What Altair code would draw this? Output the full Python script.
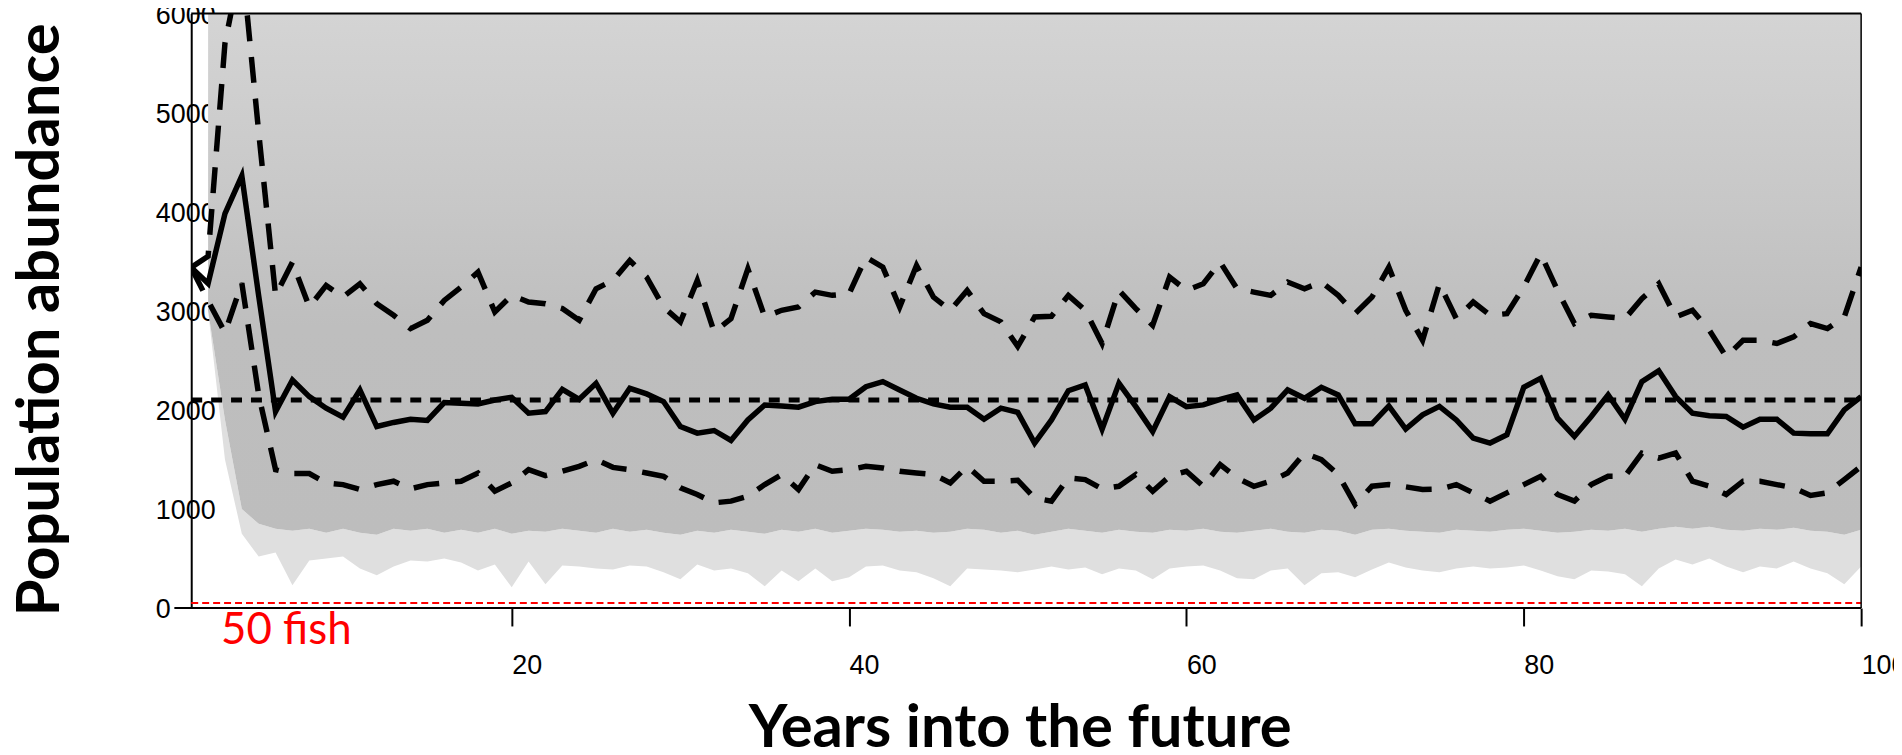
import altair as alt
import pandas as pd

# ---------------- data ----------------
years = list(range(1, 101))

median = [3437, 3276, 3980, 4362, 3150, 1983, 2301, 2134, 2017, 1926,
          2201, 1832, 1873, 1906, 1893, 2074, 2067, 2060, 2100, 2127,
          1966, 1983, 2208, 2107, 2268, 1966, 2218, 2161, 2084, 1832,
          1765, 1792, 1692, 1899, 2050, 2040, 2027, 2084, 2107, 2107,
          2234, 2285, 2201, 2117, 2060, 2027, 2027, 1906, 2017, 1975,
          1665, 1899, 2194, 2251, 1806, 2268, 2033, 1782, 2134, 2033,
          2050, 2107, 2151, 1899, 2017, 2201, 2117, 2228, 2151, 1859,
          1859, 2040, 1806, 1950, 2035, 1899, 1715, 1665, 1749, 2228,
          2318, 1916, 1732, 1933, 2151, 1906, 2285, 2395, 2134, 1966,
          1940, 1933, 1826, 1906, 1906, 1765, 1759, 1759, 2000, 2134]

upper = [3437, 3550, 5700, 6550, 4800, 3155, 3490, 3038, 3256, 3139,
         3273, 3072, 2955, 2820, 2904, 3105, 3240, 3390, 2988, 3156,
         3089, 3072, 3022, 2904, 3223, 3306, 3507, 3340, 3038, 2888,
         3306, 2787, 2921, 3424, 2938, 3005, 3038, 3189, 3156, 3172,
         3541, 3440, 3038, 3457, 3139, 3005, 3206, 2971, 2888, 2640,
         2938, 2945, 3156, 3005, 2670, 3206, 3022, 2854, 3340, 3206,
         3273, 3491, 3223, 3189, 3156, 3290, 3223, 3290, 3156, 2971,
         3139, 3440, 3005, 2703, 3273, 2921, 3089, 2955, 2971, 3240,
         3574, 3206, 2871, 2955, 2938, 2921, 3122, 3273, 2938, 3005,
         2804, 2536, 2703, 2703, 2670, 2737, 2871, 2821, 2938, 3440]

lower = [3437, 3100, 2780, 3280, 2150, 1397, 1357, 1357, 1263, 1246,
         1196, 1246, 1280, 1203, 1246, 1263, 1280, 1363, 1179, 1263,
         1397, 1337, 1380, 1430, 1497, 1420, 1397, 1363, 1330, 1213,
         1146, 1062, 1079, 1129, 1246, 1347, 1196, 1447, 1380, 1397,
         1430, 1414, 1380, 1363, 1347, 1263, 1430, 1280, 1280, 1290,
         1110, 1079, 1313, 1296, 1203, 1229, 1347, 1179, 1330, 1380,
         1229, 1447, 1313, 1229, 1280, 1363, 1564, 1497, 1347, 1045,
         1230, 1246, 1223, 1196, 1200, 1246, 1162, 1079, 1162, 1246,
         1330, 1146, 1079, 1246, 1330, 1330, 1564, 1514, 1564, 1280,
         1229, 1146, 1280, 1280, 1246, 1213, 1136, 1162, 1297, 1430]

# gray cloud of simulated trajectories (years 2..100): dense lower edge and sparse minimum
cloud_years = list(range(2, 101))
cloud_dense = [3000, 1900, 1000, 850, 800, 780, 800, 760, 800, 760,
               740, 800, 780, 800, 760, 790, 760, 800, 750, 780,
               770, 800, 780, 760, 800, 770, 790, 760, 740, 780,
               760, 790, 770, 750, 790, 770, 800, 760, 780, 800,
               790, 770, 780, 760, 770, 800, 790, 760, 780, 740,
               770, 800, 780, 760, 790, 770, 760, 790, 780, 800,
               770, 760, 780, 800, 770, 760, 790, 780, 740, 790,
               800, 780, 770, 760, 790, 780, 770, 790, 800, 780,
               760, 770, 790, 780, 800, 770, 800, 820, 800, 820,
               790, 780, 800, 790, 810, 780, 770, 740, 790]
cloud_min = [3000, 1500, 750, 520, 560, 230, 480, 500, 520, 400,
             330, 420, 480, 470, 500, 460, 380, 440, 210, 470,
             240, 430, 420, 400, 390, 430, 420, 360, 290, 440,
             380, 400, 350, 220, 380, 270, 400, 270, 310, 420,
             430, 380, 360, 300, 220, 400, 390, 380, 360, 390,
             420, 390, 410, 340, 400, 380, 290, 400, 420, 430,
             380, 300, 290, 380, 400, 230, 350, 360, 310, 390,
             460, 410, 380, 360, 400, 420, 400, 410, 430, 380,
             320, 290, 380, 370, 340, 220, 400, 490, 440, 500,
             420, 360, 420, 400, 470, 400, 350, 240, 420]
cloud_top = 6000

target_level = [2100]          # dotted reference line
threshold_level = [50]         # red "50 fish" line
threshold_label = ["50 fish"]
label_pos_x = [2.77]
label_pos_y = [-362]

x_ticks = [20, 40, 60, 80, 100]
y_ticks = [0, 1000, 2000, 3000, 4000, 5000, 6000]

# ---------------- tables ----------------
df = pd.DataFrame({"year": years, "median": median, "upper": upper, "lower": lower})
cloud = pd.DataFrame({"year": cloud_years, "dense": cloud_dense, "low": cloud_min,
                      "top": [cloud_top] * len(cloud_years)})
target_df = pd.DataFrame({"x0": [years[0]], "x1": [years[-1]], "y": target_level})
thr_df = pd.DataFrame({"x0": [years[0]], "x1": [years[-1]], "y": threshold_level})
top_df = pd.DataFrame({"x0": [years[0]], "x1": [years[-1]], "y": [y_ticks[-1]]})
bottom_df = pd.DataFrame({"x0": [0], "x1": [years[-1]], "y": [0]})
right_df = pd.DataFrame({"x0": [years[-1]], "y0": [0], "y1": [y_ticks[-1]]})
lab_df = pd.DataFrame({"x": label_pos_x, "y": label_pos_y, "label": threshold_label})

# ---------------- scales / axes ----------------
xscale = alt.Scale(domain=[1, 100], nice=False, zero=False)
yscale = alt.Scale(domain=[0, 6000], nice=False, zero=False)

xaxis = alt.Axis(
    title="Years into the future", values=x_ticks, format="d", domain=False, grid=False,
    ticks=True, tickSize=18, tickWidth=2, tickColor="black",
    labelAlign="left", labelBaseline="top", labelPadding=27, labelFlush=False,
    labelFont="Liberation Sans", labelFontSize=27, labelColor="black",
    titleFont="Lato", titleFontWeight="bold", titleFontSize=60, titleColor="black",
    titleX=832, titleY=139, titleAlign="center", titleBaseline="alphabetic",
)
yaxis = alt.Axis(
    title="Population abundance", values=y_ticks, format="d", domain=True, domainColor="black",
    domainWidth=2, grid=False, ticks=False,
    labelAlign="left", labelBaseline="middle", labelPadding=36, labelOffset=2,
    labelFont="Liberation Sans", labelFontSize=27, labelColor="black",
    titleFont="Lato", titleFontWeight="bold", titleFontSize=60, titleColor="black",
    titleX=-133, titleY=307, titleAlign="center", titleBaseline="alphabetic", titleAngle=-90,
)


def X(field):
    return alt.X(f"{field}:Q", scale=xscale, axis=xaxis)


def Y(field):
    return alt.Y(f"{field}:Q", scale=yscale, axis=yaxis)


gradient = alt.Gradient(
    gradient="linear",
    stops=[alt.GradientStop(color="#d4d4d4", offset=0),
           alt.GradientStop(color="#c8c8c8", offset=0.35),
           alt.GradientStop(color="#bebebe", offset=0.6),
           alt.GradientStop(color="#bdbdbd", offset=1)],
    x1=0, x2=0, y1=0, y2=1,
)

fringe = alt.Chart(cloud).mark_area(color="#dfdfdf", clip=True).encode(
    x=X("year"), y=Y("low"), y2="dense:Q")
dense = alt.Chart(cloud).mark_area(color=gradient, clip=True).encode(
    x=X("year"), y=Y("dense"), y2="top:Q")

thr = alt.Chart(thr_df).mark_rule(color="#ff0000", strokeWidth=2, strokeDash=[7, 4]).encode(
    x=X("x0"), x2="x1:Q", y=Y("y"))
target = alt.Chart(target_df).mark_rule(color="black", strokeWidth=5, strokeDash=[11, 9]).encode(
    x=X("x0"), x2="x1:Q", y=Y("y"))

base = alt.Chart(df)
low_line = base.mark_line(color="black", strokeWidth=5.5, strokeDash=[26, 16], clip=True).encode(
    x=X("year"), y=Y("lower"))
up_line = base.mark_line(color="black", strokeWidth=5.5, strokeDash=[26, 16], clip=True).encode(
    x=X("year"), y=Y("upper"))
med_line = base.mark_line(color="black", strokeWidth=5.5, clip=True).encode(
    x=X("year"), y=Y("median"))

top_rule = alt.Chart(top_df).mark_rule(color="black", strokeWidth=2).encode(
    x=X("x0"), x2="x1:Q", y=Y("y"))
bottom_rule = alt.Chart(bottom_df).mark_rule(color="black", strokeWidth=2).encode(
    x=X("x0"), x2="x1:Q", y=Y("y"))
right_rule = alt.Chart(right_df).mark_rule(color="black", strokeWidth=1.5).encode(
    x=X("x0"), y=Y("y0"), y2="y1:Q")

label = alt.Chart(lab_df).mark_text(
    align="left", baseline="alphabetic", font="Lato", fontSize=44, color="#ff0000"
).encode(x=X("x"), y=Y("y"), text="label:N")

chart = alt.layer(
    fringe, dense, thr, target, low_line, up_line, med_line,
    top_rule, bottom_rule, right_rule, label,
).properties(
    width=1677, height=597,
    padding={"left": 184, "top": 4, "right": 33, "bottom": 146},
    autosize=alt.AutoSizeParams(type="none"),
    background="white",
).configure_view(stroke=None)

chart.save("out.html", embed_options={"renderer": "svg", "actions": False})
